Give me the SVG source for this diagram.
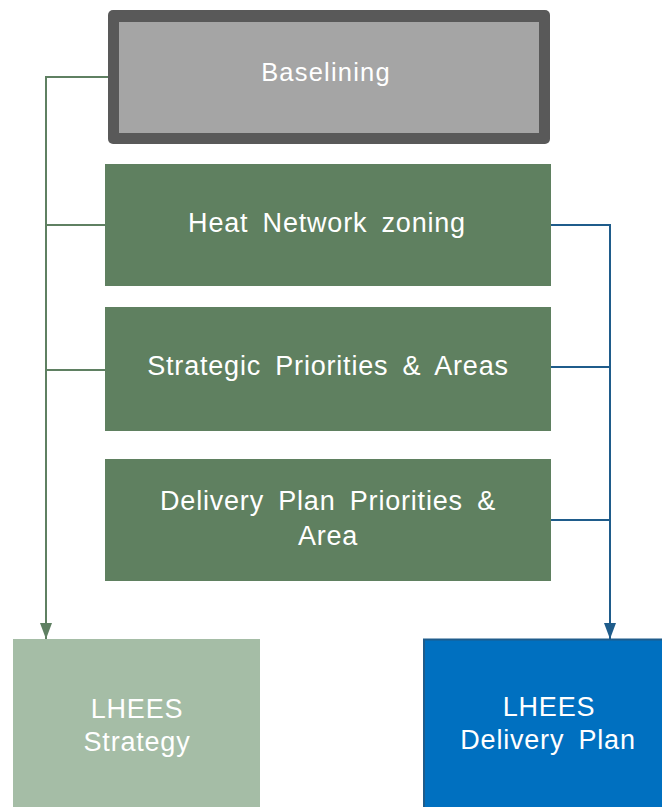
<svg xmlns="http://www.w3.org/2000/svg" width="662" height="807" viewBox="0 0 662 807">
<style>
  .lbl { font-family: "Liberation Sans", Arial, sans-serif; font-size: 27px; fill: #ffffff; text-anchor: middle; letter-spacing: 0.8px; word-spacing: 6px; }
  .gbox { fill: #5f8060; }
  .lg { fill: none; stroke: #5f8062; stroke-width: 2; }
  .lb { fill: none; stroke: #1f5c8b; stroke-width: 2; }
</style>
<defs>
  <marker id="ag" viewBox="0 0 16 12" refX="16" refY="6" markerWidth="16" markerHeight="12" markerUnits="userSpaceOnUse" orient="auto">
    <path d="M0,0 L16,6 L0,12 Z" fill="#5f8062"/>
  </marker>
  <marker id="ab" viewBox="0 0 16 12" refX="16" refY="6" markerWidth="16" markerHeight="12" markerUnits="userSpaceOnUse" orient="auto">
    <path d="M0,0 L16,6 L0,12 Z" fill="#1f5c8b"/>
  </marker>
</defs>
<g id="connectors">
  <path class="lg" d="M110,77 H46 V639" marker-end="url(#ag)"/>
  <path class="lg" d="M105,225 H46"/>
  <path class="lg" d="M105,370 H46"/>
  <path class="lb" d="M551,225 H610 V639" marker-end="url(#ab)"/>
  <path class="lb" d="M551,367 H610"/>
  <path class="lb" d="M551,520 H610"/>
</g>
<g id="baselining">
  <rect x="108" y="10" width="442" height="134" rx="5" fill="#595959"/>
  <rect x="119" y="22" width="420" height="111" fill="#a5a5a5"/>
  <text class="lbl" x="326" y="81" style="font-size:25.5px;letter-spacing:1.2px">Baselining</text>
</g>
<g id="heat-network-zoning">
  <rect class="gbox" x="105" y="164" width="446" height="122"/>
  <text class="lbl" x="327" y="232">Heat Network zoning</text>
</g>
<g id="strategic-priorities">
  <rect class="gbox" x="105" y="307" width="446" height="124"/>
  <text class="lbl" x="328" y="375">Strategic Priorities &amp; Areas</text>
</g>
<g id="delivery-plan-priorities">
  <rect class="gbox" x="105" y="459" width="446" height="122"/>
  <text class="lbl" x="328" y="510">Delivery Plan Priorities &amp;</text>
  <text class="lbl" x="328" y="545">Area</text>
</g>
<g id="lhees-strategy">
  <rect x="13" y="639" width="247" height="168" fill="#a5bda6"/>
  <text class="lbl" x="137" y="718">LHEES</text>
  <text class="lbl" x="137" y="751">Strategy</text>
</g>
<g id="lhees-delivery-plan">
  <rect x="424" y="639.5" width="240" height="170" fill="#0070c0" stroke="#1f5c8b" stroke-width="2"/>
  <text class="lbl" x="549" y="716">LHEES</text>
  <text class="lbl" x="548" y="749">Delivery Plan</text>
</g>
</svg>
